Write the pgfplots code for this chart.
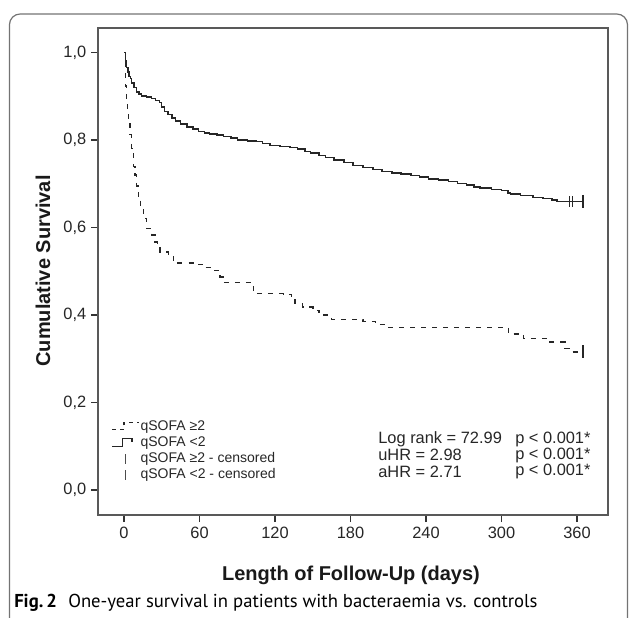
\documentclass[border=0pt]{standalone}
\usepackage{fontspec}
\setmainfont{Liberation Sans}
\newfontfamily\capfont{PT Sans}
\usepackage{pgfplots}
\usepackage{pgfplotstable}
\pgfplotsset{compat=1.18}

% qSOFA >= 2
\pgfplotstableread{
t s
0 1.000
1 0.923
2 0.890
2.6 0.862
3.5 0.840
4.8 0.812
6 0.780
7.4 0.739
8.7 0.720
10 0.695
11.4 0.671
13.3 0.644
15.4 0.621
18 0.598
22 0.583
24.6 0.567
26.5 0.555
28.6 0.544
35.2 0.534
39.2 0.519
57.8 0.516
64.4 0.508
71 0.502
76.3 0.487
79 0.474
101.5 0.465
102.8 0.449
126.6 0.447
133 0.437
136 0.426
142 0.418
150 0.410
155 0.400
165 0.390
190 0.385
200 0.378
210 0.372
305.5 0.357
317.4 0.346
336 0.338
350.5 0.323
356 0.316
365 0.316
}\qhigh

% qSOFA < 2
\pgfplotstableread{
t s
0 1.000
1 0.980
2 0.965
3 0.955
4 0.945
5 0.940
6 0.930
8 0.920
10 0.910
12 0.905
14 0.900
18 0.898
22 0.895
25 0.890
28 0.886
30 0.875
32 0.865
35 0.858
38 0.850
41 0.843
45 0.836
50 0.830
55 0.825
59 0.819
64 0.816
68 0.814
74 0.811
79 0.808
85 0.804
90 0.800
98 0.798
105 0.797
110 0.792
116 0.787
124 0.785
132 0.783
138 0.779
144 0.774
148 0.770
155 0.765
160 0.760
167 0.754
175 0.748
182 0.742
190 0.737
198 0.732
205 0.728
213 0.725
220 0.722
228 0.719
235 0.715
242 0.711
250 0.708
258 0.705
265 0.701
272 0.697
278 0.693
283 0.690
292 0.687
300 0.684
305 0.679
307 0.677
315 0.673
325 0.669
333 0.666
340 0.663
344 0.659
365 0.659
}\qlow

\begin{document}
\begin{tikzpicture}
\useasboundingbox (0,0) rectangle (472.5pt,-462.75pt);
\draw[black!55, line width=0.9pt, rounded corners=8pt] (7.1pt,-10.5pt) rectangle (470.6pt,-480pt);
\begin{axis}[
  at={(73.5pt,-386.25pt)}, anchor=south west,
  scale only axis, width=382.5pt, height=365.25pt,
  xmin=-20.66, xmax=384.6, ymin=-0.057, ymax=1.0558,
  xtick={0,60,120,180,240,300,360},
  ytick={0,0.2,0.4,0.6,0.8,1},
  xtick pos=bottom, ytick pos=left,
  tick align=outside, major tick length=5.25pt,
  tick style={black!80, line width=0.9pt},
  axis line style={black!65, line width=1.2pt},
  /pgf/number format/assume math mode=true,
  ticklabel style={font=\fontsize{12.3}{14}\selectfont, black!85},
  yticklabel style={/pgf/number format/.cd, fixed, fixed zerofill, precision=1, use comma},
  legend style={at={(axis cs:-13.4,0.169)}, anchor=north west, draw=none, fill=none,
    font=\fontsize{10.5}{12}\selectfont, text=black!85, row sep=0.6pt,
    nodes={inner sep=1pt, text height=7.5pt, text depth=2pt}},
  legend cell align=left,
  clip=false,
]
\addplot[const plot, black!85, line width=1.1pt, dash pattern=on 3.75pt off 4.5pt,
  legend image code/.code={\draw[black!85, line width=0.9pt, dash pattern=on 3pt off 3pt] (0pt,-2pt) -- (9pt,-2pt) -- (9pt,3pt) -- (20pt,3pt);}]
  table[x=t, y=s] {\qhigh};
\addlegendentry{qSOFA ≥2}
\addplot[const plot, black!85, line width=1.1pt,
  legend image code/.code={\draw[black!85, line width=0.9pt] (0pt,-2.5pt) -- (8pt,-2.5pt) -- (8pt,3pt) -- (15pt,3pt) -- (15pt,1pt);}]
  table[x=t, y=s] {\qlow};
\addlegendentry{qSOFA <2}
\addplot[only marks, mark=|, mark size=5pt, black!85, mark options={line width=1.6pt},
  legend image code/.code={\draw[black!70, line width=1.2pt] (10pt,-3.5pt) -- (10pt,3.5pt);}]
  coordinates {(365,0.316)};
\addlegendentry{qSOFA ≥2 - censored}
\addplot[only marks, mark=|, mark size=4pt, black!85, mark options={line width=0.6pt},
  legend image code/.code={\draw[black!70, line width=1.2pt] (10pt,-3.5pt) -- (10pt,3.5pt);}]
  coordinates {(354,0.659) (356.5,0.659)};
\addlegendentry{qSOFA <2 - censored}
\addplot[only marks, mark=|, mark size=5pt, black!85, mark options={line width=1.6pt}, forget plot]
  coordinates {(365,0.659)};
\begin{scope}[font=\fontsize{12.3}{14}\selectfont, black!85, every node/.style={inner sep=0pt, anchor=west}]
\node at (axis cs:201.9,0.1165) {Log rank = 72.99};
\node at (axis cs:201.9,0.0800) {uHR = 2.98};
\node at (axis cs:201.9,0.0423) {aHR = 2.71};
\node at (axis cs:310.7,0.1165) {p < 0.001*};
\node at (axis cs:310.7,0.0800) {p < 0.001*};
\node at (axis cs:310.7,0.0423) {p < 0.001*};
\end{scope}
\end{axis}
\node[anchor=base, font=\fontsize{15}{18}\selectfont\bfseries, black!90] at (263.25pt,-435pt) {Length of Follow-Up (days)};
\node[anchor=base, rotate=90, font=\fontsize{15}{18}\selectfont\bfseries, black!90] at (37.5pt,-203.25pt) {Cumulative Survival};
\node[anchor=base west, inner sep=0pt, font=\capfont\fontsize{14}{16}\selectfont] at (10.5pt,-455.5pt) {\textbf{Fig.\,2}\hspace{0.6em}One-year survival in patients with bacteraemia vs. controls};
\end{tikzpicture}
\end{document}
